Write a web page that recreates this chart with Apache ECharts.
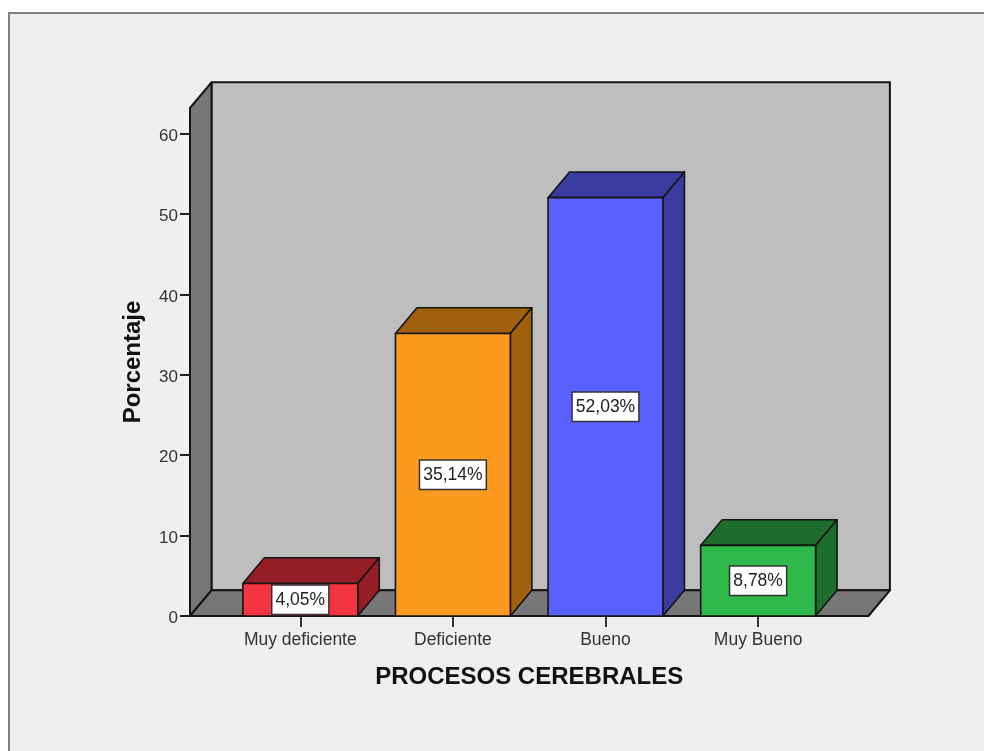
<!DOCTYPE html>
<html>
<head>
<meta charset="utf-8">
<style>html,body{margin:0;padding:0;background:#fff}#chart{width:984px;height:751px}</style>
<script src="https://cdn.jsdelivr.net/npm/echarts@6/dist/echarts.min.js"></script>
</head>
<body>
<div id="chart"></div>
<script>
// Percentage of respondents per level of "procesos cerebrales"
const categories = ['Muy deficiente', 'Deficiente', 'Bueno', 'Muy Bueno'];
const percentages = [4.05, 35.14, 52.03, 8.78];
const valueTicks = [0, 10, 20, 30, 40, 50, 60];

// Front face and darker top/side face of each bar
const frontColors = ['#f43440', '#fb9a1e', '#5a60ff', '#2eb94a'];
const shadeColors = ['#951e24', '#a0600e', '#393b9f', '#1d6d2c'];

const depthX = 21.5, depthY = 25.7;   // oblique offset of the 3D box
const sidePad = 34;                   // floor overhang beyond the category band
const barRatio = 0.753;
const edge = '#141414';
const fontFamily = '"Liberation Sans", Arial, sans-serif';

const poly = (points, fill, lineWidth) => ({
  type: 'polygon',
  shape: { points },
  style: { fill, stroke: edge, lineWidth, lineJoin: 'round' }
});

// Back wall, side wall and floor of the plot box
function renderWalls(params) {
  const r = params.coordSys;
  const l = r.x - sidePad, rt = r.x + r.width + sidePad;
  const t = r.y, b = r.y + r.height;
  return {
    type: 'group',
    children: [
      poly([[l + depthX, t - depthY], [rt + depthX, t - depthY], [rt + depthX, b - depthY], [l + depthX, b - depthY]], '#bebebe', 2),
      poly([[l, b], [l, t], [l + depthX, t - depthY], [l + depthX, b - depthY]], '#777777', 2),
      poly([[l, b], [rt, b], [rt + depthX, b - depthY], [l + depthX, b - depthY]], '#777777', 2)
    ]
  };
}

function renderBar(params, api) {
  const i = params.dataIndex;
  const value = api.value(1);
  const top = api.coord([api.value(0), value]);
  const base = api.coord([api.value(0), 0]);
  const w = api.size([1, 0])[0] * barRatio;
  const x0 = top[0] - w / 2, x1 = top[0] + w / 2;
  const y0 = top[1], y1 = base[1];
  const cy = (y0 + y1) / 2;
  return {
    type: 'group',
    children: [
      poly([[x0, y0], [x1, y0], [x1 + depthX, y0 - depthY], [x0 + depthX, y0 - depthY]], shadeColors[i], 1.6),
      poly([[x1, y0], [x1 + depthX, y0 - depthY], [x1 + depthX, y1 - depthY], [x1, y1]], shadeColors[i], 1.6),
      poly([[x0, y0], [x1, y0], [x1, y1], [x0, y1]], frontColors[i], 1.6),
      {
        type: 'text',
        x: top[0],
        y: cy,
        z2: 10,
        style: {
          text: value.toFixed(2).replace('.', ',') + '%',
          font: '17.5px ' + fontFamily,
          fill: '#222',
          align: 'center',
          verticalAlign: 'middle',
          backgroundColor: '#fff',
          borderColor: '#333',
          borderWidth: 1.5,
          padding: [5, 3, 5, 3]
        }
      }
    ]
  };
}

const chart = echarts.init(document.getElementById('chart'), null, { renderer: 'canvas' });
chart.setOption({
  animation: false,
  backgroundColor: '#fff',
  graphic: [{
    type: 'rect',
    z: -1,
    silent: true,
    shape: { x: 9, y: 13, width: 1100, height: 900 },
    style: { fill: '#efefef', stroke: '#808080', lineWidth: 2 }
  }],
  grid: { left: 224, top: 108, width: 610.4, height: 508 },
  xAxis: {
    type: 'category',
    data: categories,
    axisLine: { show: false },
    axisTick: { show: true, alignWithLabel: true, length: 11, lineStyle: { color: '#333', width: 2 } },
    axisLabel: { color: '#333', fontFamily, fontSize: 17.5, margin: 15, interval: 0 },
    name: 'PROCESOS CEREBRALES',
    nameLocation: 'middle',
    nameGap: 49,
    nameTextStyle: { color: '#111', fontFamily, fontSize: 24, fontWeight: 'bold' }
  },
  yAxis: {
    type: 'value',
    min: 0,
    max: 63.18,
    interval: 10,
    offset: sidePad,
    splitLine: { show: false },
    axisLine: { show: false },
    axisTick: { show: true, length: 10, customValues: valueTicks, lineStyle: { color: '#222', width: 2 } },
    axisLabel: { color: '#333', fontFamily, fontSize: 17, margin: 12, verticalAlign: 'top', lineHeight: 5, customValues: valueTicks },
    name: 'Porcentaje',
    nameLocation: 'middle',
    nameRotate: 90,
    nameGap: 45,
    nameTextStyle: { color: '#111', fontFamily, fontSize: 24, fontWeight: 'bold' }
  },
  series: [
    {
      type: 'custom',
      z: 1,
      clip: false,
      silent: true,
      renderItem: renderWalls,
      data: [[categories[0], 0]]
    },
    {
      type: 'custom',
      z: 2,
      clip: false,
      silent: true,
      renderItem: renderBar,
      encode: { x: 0, y: 1 },
      data: categories.map((c, i) => [c, percentages[i]])
    }
  ]
});
</script>
</body>
</html>
